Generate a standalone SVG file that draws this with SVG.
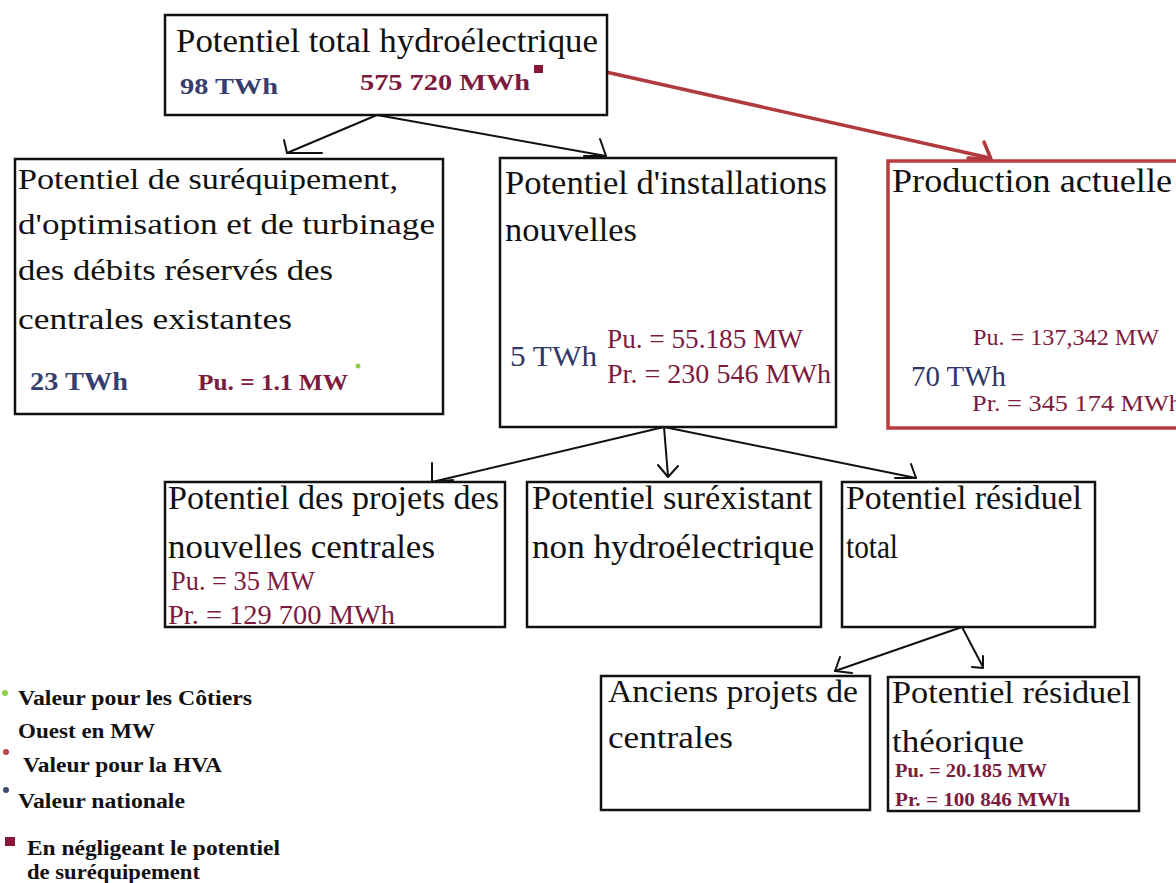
<svg xmlns="http://www.w3.org/2000/svg" width="1176" height="883" viewBox="0 0 1176 883">
<style>
.box{fill:#fff;stroke:#111;stroke-width:2.5}
.rbox{fill:#fff;stroke:#b83b40;stroke-width:3.5}
.t{font-family:"Liberation Serif",serif;fill:#111}
.blue{font-family:"Liberation Serif",serif;fill:#363e6e;font-weight:bold}
.mar{font-family:"Liberation Serif",serif;fill:#7c1b3e;font-weight:bold}
.mr{font-family:"Liberation Serif",serif;fill:#7c1b3e}
.br{font-family:"Liberation Serif",serif;fill:#2f3766}
.leg{font-family:"Liberation Serif",serif;fill:#111;font-weight:bold;font-size:20px}
.c{fill:none;stroke:#111;stroke-width:2;stroke-linecap:round;stroke-linejoin:round}
.cr{fill:none;stroke:#b03a3e;stroke-width:3.5;stroke-linecap:round;stroke-linejoin:round}
</style>
<rect width="1176" height="883" fill="#fff"/>
<g id="connectors">
<line class="c" x1="377" y1="115" x2="287" y2="153"/>
<polyline class="c" points="284,140 287,153 322,153"/>
<line class="c" x1="377" y1="115" x2="606" y2="156"/>
<polyline class="c" points="600,139 606,156 584,156"/>
<line class="cr" x1="606" y1="72" x2="990" y2="158"/>
<polyline class="cr" points="984,142 991,159 968,158"/>
<line class="c" x1="664" y1="427" x2="432" y2="482"/>
<polyline class="c" points="432,463 432,482 453,480"/>
<line class="c" x1="664" y1="427" x2="668" y2="476"/>
<polyline class="c" points="658,465 668,477 678,466"/>
<line class="c" x1="664" y1="427" x2="916" y2="478"/>
<polyline class="c" points="911,464 916,478 895,478"/>
<line class="c" x1="962" y1="627" x2="835" y2="671"/>
<polyline class="c" points="840,657 835,671 852,673"/>
<line class="c" x1="962" y1="627" x2="983" y2="667"/>
<polyline class="c" points="972,667 983,668 983,656"/>
</g>
<g id="n-total">
<rect class="box" x="165" y="15" width="442" height="100"/>
<text class="t" x="176" y="52" font-size="33" textLength="422" lengthAdjust="spacingAndGlyphs">Potentiel total hydroélectrique</text>
<text class="blue" x="180" y="94" font-size="24" textLength="98" lengthAdjust="spacingAndGlyphs">98 TWh</text>
<text class="mar" x="360" y="90" font-size="24" textLength="170" lengthAdjust="spacingAndGlyphs">575 720 MWh</text>
<rect x="534" y="65" width="9" height="8" fill="#8b1538"/>
</g>
<g id="n-surequipement">
<rect class="box" x="15" y="159" width="428" height="255"/>
<text class="t" x="18" y="189" font-size="30" textLength="380" lengthAdjust="spacingAndGlyphs">Potentiel de suréquipement,</text>
<text class="t" x="18" y="234" font-size="30" textLength="417" lengthAdjust="spacingAndGlyphs">d'optimisation et de turbinage</text>
<text class="t" x="18" y="280" font-size="30" textLength="315" lengthAdjust="spacingAndGlyphs">des débits réservés des</text>
<text class="t" x="18" y="329" font-size="30" textLength="274" lengthAdjust="spacingAndGlyphs">centrales existantes</text>
<text class="blue" x="30" y="390" font-size="25" textLength="98" lengthAdjust="spacingAndGlyphs">23 TWh</text>
<text class="mar" x="198" y="390" font-size="23" textLength="150" lengthAdjust="spacingAndGlyphs">Pu. = 1.1 MW</text>
<circle cx="358" cy="366" r="2.5" fill="#8cd04a"/>
</g>
<g id="n-installations">
<rect class="box" x="500" y="158" width="336" height="269"/>
<text class="t" x="505" y="194" font-size="34" textLength="322" lengthAdjust="spacingAndGlyphs">Potentiel d'installations</text>
<text class="t" x="505" y="241" font-size="34" textLength="132" lengthAdjust="spacingAndGlyphs">nouvelles</text>
<text class="br" x="510" y="366" font-size="30" textLength="87" lengthAdjust="spacingAndGlyphs">5 TWh</text>
<text class="mr" x="607" y="348" font-size="27" textLength="196" lengthAdjust="spacingAndGlyphs">Pu. = 55.185 MW</text>
<text class="mr" x="607" y="383" font-size="27" textLength="224" lengthAdjust="spacingAndGlyphs">Pr. = 230 546 MWh</text>
</g>
<g id="n-production">
<rect class="rbox" x="888" y="161" width="300" height="267"/>
<text class="t" x="892" y="192" font-size="33" textLength="280" lengthAdjust="spacingAndGlyphs">Production actuelle</text>
<text class="mr" x="973" y="345" font-size="23" textLength="186" lengthAdjust="spacingAndGlyphs">Pu. = 137,342 MW</text>
<text class="br" x="911" y="386" font-size="29" textLength="95" lengthAdjust="spacingAndGlyphs">70 TWh</text>
<text class="mr" x="972" y="411" font-size="24" textLength="210" lengthAdjust="spacingAndGlyphs">Pr. = 345 174 MWh</text>
</g>
<g id="n-projets">
<rect class="box" x="165" y="482" width="340" height="145"/>
<text class="t" x="168" y="509" font-size="34" textLength="331" lengthAdjust="spacingAndGlyphs">Potentiel des projets des</text>
<text class="t" x="168" y="558" font-size="34" textLength="267" lengthAdjust="spacingAndGlyphs">nouvelles centrales</text>
<text class="mr" x="171" y="590" font-size="27" textLength="144" lengthAdjust="spacingAndGlyphs">Pu. = 35 MW</text>
<text class="mr" x="168" y="624" font-size="27" textLength="227" lengthAdjust="spacingAndGlyphs">Pr. = 129 700 MWh</text>
</g>
<g id="n-surexistant">
<rect class="box" x="527" y="482" width="294" height="145"/>
<text class="t" x="532" y="509" font-size="34" textLength="280" lengthAdjust="spacingAndGlyphs">Potentiel suréxistant</text>
<text class="t" x="532" y="558" font-size="34" textLength="282" lengthAdjust="spacingAndGlyphs">non hydroélectrique</text>
</g>
<g id="n-residuel-total">
<rect class="box" x="842" y="482" width="253" height="145"/>
<text class="t" x="846" y="509" font-size="34" textLength="236" lengthAdjust="spacingAndGlyphs">Potentiel résiduel</text>
<text class="t" x="846" y="558" font-size="34" textLength="52" lengthAdjust="spacingAndGlyphs">total</text>
</g>
<g id="n-anciens">
<rect class="box" x="601" y="676" width="269" height="134"/>
<text class="t" x="608" y="702" font-size="32" textLength="250" lengthAdjust="spacingAndGlyphs">Anciens projets de</text>
<text class="t" x="608" y="748" font-size="32" textLength="125" lengthAdjust="spacingAndGlyphs">centrales</text>
</g>
<g id="n-theorique">
<rect class="box" x="888" y="677" width="251" height="134"/>
<text class="t" x="892" y="703" font-size="32" textLength="239" lengthAdjust="spacingAndGlyphs">Potentiel résiduel</text>
<text class="t" x="892" y="752" font-size="32" textLength="132" lengthAdjust="spacingAndGlyphs">théorique</text>
<text class="mar" x="895" y="777" font-size="19" textLength="152" lengthAdjust="spacingAndGlyphs">Pu. = 20.185 MW</text>
<text class="mar" x="895" y="806" font-size="19" textLength="175" lengthAdjust="spacingAndGlyphs">Pr. = 100 846 MWh</text>
</g>
<g id="legend">
<circle cx="5" cy="693" r="3" fill="#8cd04a"/>
<text class="leg" x="18" y="705" textLength="234" lengthAdjust="spacingAndGlyphs">Valeur pour les Côtiers</text>
<text class="leg" x="18" y="738" textLength="137" lengthAdjust="spacingAndGlyphs">Ouest en MW</text>
<circle cx="6" cy="752" r="3" fill="#c0443c"/>
<text class="leg" x="23" y="772" textLength="199" lengthAdjust="spacingAndGlyphs">Valeur pour la HVA</text>
<circle cx="6" cy="790" r="3" fill="#3a4a78"/>
<text class="leg" x="18" y="808" textLength="167" lengthAdjust="spacingAndGlyphs">Valeur nationale</text>
<rect x="5" y="837" width="10" height="9" fill="#8b1538"/>
<text class="leg" x="27" y="855" textLength="253" lengthAdjust="spacingAndGlyphs">En négligeant le potentiel</text>
<text class="leg" x="27" y="879" textLength="173" lengthAdjust="spacingAndGlyphs">de suréquipement</text>
</g>
</svg>
